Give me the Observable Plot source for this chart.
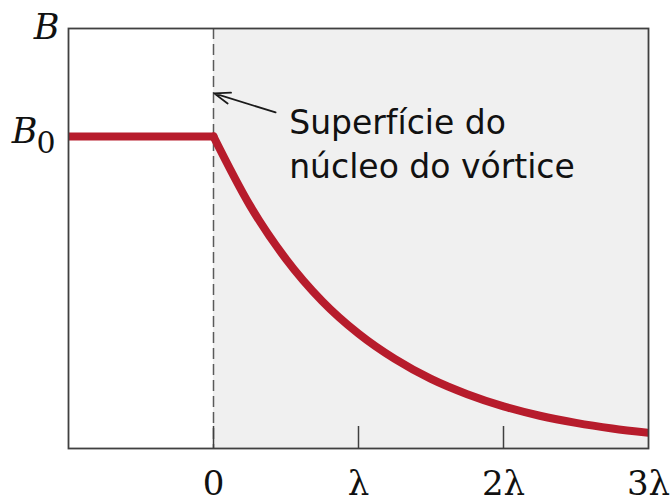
<!DOCTYPE html>
<html>
<head>
<meta charset="utf-8">
<script src="https://cdn.jsdelivr.net/npm/d3@7"></script>
<script src="https://cdn.jsdelivr.net/npm/@observablehq/plot@0.6"></script>
<style>
  html, body { margin: 0; padding: 0; background: #fff; }
</style>
</head>
<body>
<div id="chart"></div>
<script>
// Field profile across a vortex core: B is flat inside the core, then decays outside.
const xTicks = [0, 1, 2, 3];
const xTickLabels = ["0", "λ", "2λ", "3λ"];

// inside the core (x < 0): constant B0
const coreX = [-1, 0];
const coreB = [1, 1];

// outside the core: B / B0 against distance in units of λ
const tailX = [0, 0.25, 0.5, 0.75, 1, 1.25, 1.5, 1.75, 2, 2.25, 2.5, 2.75, 3];
const tailB = [1, 0.78, 0.607, 0.472, 0.368, 0.287, 0.223, 0.174, 0.135, 0.105, 0.082, 0.064, 0.05];

const noteLines = ["Superfície do", "núcleo do vórtice"];

const core = coreX.map((x, i) => ({x, b: coreB[i]}));
const tail = tailX.map((x, i) => ({x, b: tailB[i]}));
const tickLabel = new Map(xTicks.map((t, i) => [t, xTickLabels[i]]));

const red = "#b71c2c";
const ink = "#111";
const frameGray = "#404040";

const chart = Plot.plot({
  width: 672,
  height: 501,
  marginLeft: 68,
  marginRight: 24,
  marginTop: 28,
  marginBottom: 53,
  x: {domain: [-1, 3], axis: null},
  y: {domain: [0, 1.346], axis: null},
  style: {background: "#fff", overflow: "visible"},
  marks: [
    // region outside the core
    Plot.rect([{x1: 0, x2: 3}], {x1: "x1", x2: "x2", fill: "#f0f0f0"}),
    // core surface
    Plot.ruleX([0], {stroke: "#5a5a5a", strokeWidth: 1.5, strokeDasharray: "11,5"}),
    // field profile
    Plot.line(core, {x: "x", y: "b", stroke: red, strokeWidth: 8, strokeLinecap: "round", clip: true}),
    Plot.line(tail, {x: "x", y: "b", stroke: red, strokeWidth: 8, curve: "monotone-x", strokeLinecap: "round", clip: true}),
    // inward tick marks on the bottom edge
    Plot.ruleX(xTicks.slice(0, 3), {x: d => d, y1: 0, y2: 0, insetBottom: 22, stroke: frameGray, strokeWidth: 1.5}),
    Plot.frame({stroke: frameGray, strokeWidth: 1.8}),
    // tick labels
    Plot.text(xTicks, {
      x: d => d, y: 0, text: d => tickLabel.get(d),
      dy: 46, lineAnchor: "bottom", textAnchor: "middle",
      fontFamily: "DejaVu Serif", fontSize: 34, fill: ink
    }),
    // axis name
    Plot.text(["B"], {
      frameAnchor: "top-left", text: d => d, dx: -9, dy: 10,
      textAnchor: "end", lineAnchor: "bottom",
      fontFamily: "DejaVu Serif", fontStyle: "italic", fontSize: 35, fill: ink
    }),
    // B0 level
    Plot.text([1], {
      y: d => d, frameAnchor: "left", text: () => "B", dx: -31, dy: 7,
      textAnchor: "end", lineAnchor: "bottom",
      fontFamily: "DejaVu Serif", fontStyle: "italic", fontSize: 35, fill: ink
    }),
    Plot.text([1], {
      y: d => d, frameAnchor: "left", text: () => "0", dx: -32, dy: 17,
      textAnchor: "start", lineAnchor: "bottom",
      fontFamily: "DejaVu Serif", fontSize: 30, fill: ink
    }),
    // annotation
    Plot.arrow([{x1: 0.428, y1: 1.077, x2: 0.005, y2: 1.138}], {
      x1: "x1", y1: "y1", x2: "x2", y2: "y2",
      stroke: "#1a1a1a", strokeWidth: 1.8, headLength: 14, headAngle: 40
    }),
    Plot.text([noteLines.join("\n")], {
      x: 0.522, y: 1.107, text: d => d,
      textAnchor: "start", lineAnchor: "top", lineHeight: 1.333,
      fontFamily: "DejaVu Sans", fontSize: 33, fill: ink
    })
  ]
});

document.getElementById("chart").appendChild(chart);
</script>
</body>
</html>
